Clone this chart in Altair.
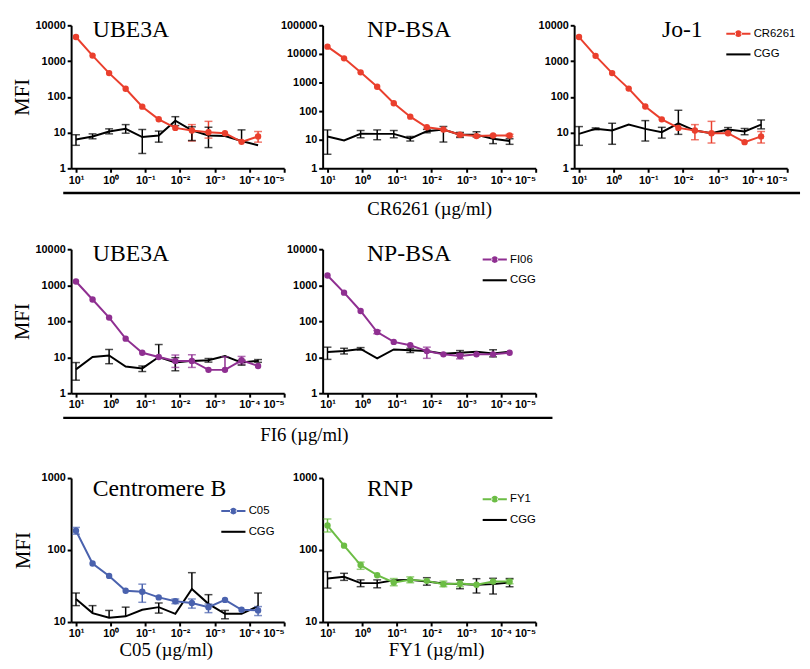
import altair as alt
import pandas as pd

SERIF = "Liberation Serif"
SANS = "Liberation Sans"

# x: antibody concentration (ug/ml), 3-fold dilutions
conc = [10, 3.33, 1.11, 0.37, 0.123, 0.0412, 0.0137, 0.00457, 0.00152, 0.000508, 0.000169, 0.0000565]

x_tick_values = [10, 1, 0.1, 0.01, 0.001, 0.0001, 0.00001]
x_tick_labels = ["10¹", "10⁰", "10⁻¹", "10⁻²", "10⁻³", "10⁻⁴", "10⁻⁵"]
x_label_expr = "[" + ",".join("'%s'" % s for s in x_tick_labels) + "][1 - round(log(datum.value) / LN10)]"

# ---------------- Row 1 : CR6261 ----------------
r1_ube_ab_mean = [4700, 1420, 460, 168, 53, 23.5, 13.5, 11.4, 10.2, 9.6, 5.5, 7.8]
r1_ube_ab_lo = [4700, 1420, 460, 168, 53, 23.5, 13.5, 5.8, 7.0, 9.6, 5.5, 5.4]
r1_ube_ab_hi = [4700, 1420, 460, 168, 53, 23.5, 13.5, 16.7, 20.6, 9.6, 5.5, 10.7]
r1_ube_cgg_mean = [6.4, 7.8, 10.7, 12.7, 7.5, 8.3, 21.5, 11.5, 8.3, 8.0, 5.8, 4.4]
r1_ube_cgg_lo = [4.4, 6.7, 9.2, 9.6, 2.6, 5.4, 15.7, 6.0, 3.8, 8.0, 5.8, 4.4]
r1_ube_cgg_hi = [8.7, 9.2, 12.7, 16.7, 12.2, 11.0, 27.8, 14.5, 14.1, 8.0, 11.9, 4.4]

r1_np_ab_mean = [17900, 7000, 2270, 709, 189, 64, 27.3, 22.7, 14.9, 13.4, 14.0, 14.0]
r1_np_ab_lo = [17900, 7000, 2270, 709, 189, 64, 27.3, 22.7, 13.0, 13.4, 14.0, 12.8]
r1_np_ab_hi = [17900, 7000, 2270, 709, 189, 64, 27.3, 22.7, 17.0, 13.4, 14.0, 15.5]
r1_np_cgg_mean = [13.0, 9.5, 16.1, 16.0, 16.0, 10.8, 19.9, 22.6, 14.9, 14.9, 10.8, 9.0]
r1_np_cgg_lo = [3.1, 9.5, 11.7, 10.0, 11.7, 9.0, 17.5, 8.3, 12.0, 12.5, 7.3, 6.9]
r1_np_cgg_hi = [22.0, 9.5, 21.0, 22.0, 21.0, 13.0, 23.0, 29.0, 18.0, 19.0, 14.0, 10.8]

r1_jo_ab_mean = [4700, 1400, 460, 170, 53.6, 23.4, 13.5, 11.4, 9.6, 9.6, 5.4, 7.8]
r1_jo_ab_lo = [4700, 1400, 460, 170, 53.6, 23.4, 13.5, 6.3, 5.1, 9.6, 5.4, 5.1]
r1_jo_ab_hi = [4700, 1400, 460, 170, 53.6, 23.4, 13.5, 16.7, 20.6, 9.6, 5.4, 10.7]
r1_jo_cgg_mean = [9.2, 12.7, 11.4, 16.7, 12.7, 10.3, 18.2, 11.4, 9.6, 12.2, 10.7, 16.7]
r1_jo_cgg_lo = [4.4, 12.0, 4.7, 16.7, 5.8, 7.0, 8.9, 11.4, 9.6, 10.8, 8.7, 12.7]
r1_jo_cgg_hi = [14.7, 13.5, 18.2, 16.7, 21.6, 14.0, 42.0, 11.4, 9.6, 13.8, 13.0, 22.5]

# ---------------- Row 2 : FI6 ----------------
r2_ube_ab_mean = [1270, 400, 126, 32.8, 13.3, 10.1, 7.9, 7.9, 4.45, 4.45, 8.2, 5.7]
r2_ube_ab_lo = [1270, 400, 126, 32.8, 13.3, 10.1, 5.2, 5.2, 4.45, 4.45, 6.4, 5.7]
r2_ube_ab_hi = [1270, 400, 126, 32.8, 13.3, 10.1, 11.5, 11.7, 4.45, 10.3, 10.5, 5.7]
r2_ube_cgg_mean = [4.6, 10.1, 11.2, 5.5, 4.9, 10.1, 7.1, 7.9, 8.2, 10.7, 7.1, 7.9]
r2_ube_cgg_lo = [2.3, 10.1, 6.6, 5.5, 4.0, 10.1, 4.2, 7.9, 7.3, 10.7, 6.0, 7.2]
r2_ube_cgg_hi = [7.1, 10.1, 16.4, 5.5, 5.7, 22.5, 9.7, 7.9, 9.2, 10.7, 8.3, 8.6]

r2_np_ab_mean = [1860, 620, 192, 50, 26.6, 21.5, 14.8, 12.0, 10.8, 12.0, 12.0, 13.3]
r2_np_ab_lo = [1860, 620, 192, 45, 26.6, 21.5, 9.3, 12.0, 9.0, 12.0, 12.0, 13.3]
r2_np_ab_hi = [1860, 620, 192, 55, 26.6, 21.5, 19.0, 12.0, 12.8, 12.0, 12.0, 13.3]
r2_np_cgg_mean = [13.9, 14.8, 17.0, 9.3, 16.4, 15.7, 14.8, 12.4, 13.3, 14.2, 12.7, 14.2]
r2_np_cgg_lo = [8.7, 12.3, 15.8, 9.3, 16.4, 13.5, 14.8, 12.4, 11.5, 14.2, 10.2, 14.2]
r2_np_cgg_hi = [19.0, 17.7, 18.5, 9.3, 16.4, 17.6, 14.8, 12.4, 15.3, 14.2, 16.1, 14.2]

# ---------------- Row 3 : C05 / FY1 ----------------
r3_cen_ab_mean = [185, 65, 43.7, 27.2, 26.4, 22.0, 19.4, 18.4, 16.1, 20.3, 14.8, 14.5]
r3_cen_ab_lo = [166, 65, 43.7, 27.2, 18.8, 22.0, 18.0, 15.6, 13.5, 20.3, 14.8, 12.3]
r3_cen_ab_hi = [206, 65, 43.7, 27.2, 33.6, 22.0, 20.9, 20.9, 17.8, 20.3, 14.8, 16.4]
r3_cen_cgg_mean = [20.9, 13.3, 11.5, 12.0, 14.8, 16.1, 13.0, 28.7, 17.9, 13.0, 13.0, 16.6]
r3_cen_cgg_lo = [16.9, 13.3, 11.5, 12.0, 14.8, 13.3, 13.0, 28.7, 17.9, 11.1, 13.0, 16.6]
r3_cen_cgg_hi = [25.3, 16.9, 14.5, 16.1, 14.8, 18.4, 13.0, 48.5, 24.0, 14.5, 13.0, 25.3]

r3_rnp_ab_mean = [219, 115, 61.9, 44.7, 35.4, 38.5, 37.3, 33.6, 34.3, 32.9, 36.6, 36.6]
r3_rnp_ab_lo = [178, 115, 54, 44.7, 31.9, 35.1, 37.3, 30.9, 30.9, 32.9, 36.6, 34.0]
r3_rnp_ab_hi = [270, 115, 68, 44.7, 40.2, 42.4, 37.3, 37.0, 38.1, 32.9, 36.6, 39.3]
r3_rnp_cgg_mean = [40.2, 42.4, 34.7, 34.7, 38.1, 38.5, 36.6, 34.3, 33.6, 32.9, 33.6, 35.4]
r3_rnp_cgg_lo = [29.6, 37.9, 31.0, 29.9, 38.1, 38.5, 32.5, 34.3, 29.0, 25.3, 24.5, 30.9]
r3_rnp_cgg_hi = [50.1, 47.5, 38.5, 38.5, 38.1, 38.5, 41.3, 34.3, 38.5, 40.0, 40.5, 40.2]

RED = "#EA3F2D"
PURPLE = "#8F2F91"
BLUE = "#4A62AE"
GREEN = "#6CBD45"

# legend symbols (unit-square paths): line with a dot, and a plain line (as thin filled bars)
CIRCLE = "M-0.28,0A0.28,0.28,0,1,0,0.28,0A0.28,0.28,0,1,0,-0.28,0Z"
DOTLINE = "M-1,-0.085H-0.2V0.085H-1Z M0.2,-0.085H1V0.085H0.2Z " + CIRCLE
LINE = "M-1,-0.085H1V0.085H-1Z"

PW = 216
XMAX = 10 ** 1.14


def make_panel(name, ab, color, ymin, ymax, yvals, vals, mfi, title_dx, title_dy=22,
               legend_xy=None, mfi_pad=3, xtitle=None, xtitle_x=0, h=146):
    ab_mean, ab_lo, ab_hi, cgg_mean, cgg_lo, cgg_hi = vals
    rows = []
    for i, c in enumerate(conc):
        rows.append({"conc": c, "series": ab, "mean": ab_mean[i], "lo": ab_lo[i], "hi": ab_hi[i]})
    for i, c in enumerate(conc):
        rows.append({"conc": c, "series": "CGG", "mean": cgg_mean[i], "lo": cgg_lo[i], "hi": cgg_hi[i]})
    df = pd.DataFrame(rows)
    base = alt.Chart(df)

    xs = alt.Scale(type="log", domain=[1e-5, XMAX], reverse=True, nice=False)
    ys = alt.Scale(type="log", domain=[ymin, ymax], nice=False)
    cs = alt.Scale(domain=[ab, "CGG"], range=[color, "black"])

    xaxis_kw = dict(values=x_tick_values, labelExpr=x_label_expr, tickSize=4, tickWidth=2,
                    domainWidth=2, domainColor="black", tickColor="black",
                    labelFont=SANS, labelFontWeight="bold", labelFontSize=11,
                    labelColor="black", labelPadding=2, grid=False, labelAngle=0)
    if xtitle:
        xaxis_kw.update(title=xtitle, titleFont=SERIF, titleFontSize=19, titleFontWeight="normal",
                        titleColor="black", titleX=xtitle_x, titleY=28, titleBaseline="middle")
    else:
        xaxis_kw.update(title=None)
    xaxis = alt.Axis(**xaxis_kw)

    yaxis_kw = dict(values=yvals, format="d", tickSize=4, tickWidth=2, domainWidth=2,
                    domainColor="black", tickColor="black", labelFont=SANS,
                    labelFontWeight="bold", labelFontSize=11, labelColor="black",
                    labelPadding=2, grid=False)
    if mfi:
        yaxis_kw.update(title="MFI", titleFont=SERIF, titleFontSize=21, titleFontWeight="normal",
                        titleColor="black", titlePadding=mfi_pad)
    else:
        yaxis_kw.update(title=None)
    yaxis = alt.Axis(**yaxis_kw)

    if legend_xy:
        legend = alt.Legend(
            orient="none", legendX=legend_xy[0], legendY=legend_xy[1], title=None,
            symbolSize=600, symbolStrokeWidth=0, symbolOpacity=1,
            labelFont=SANS, labelFontSize=11.5, labelColor="black", labelOffset=3,
            rowPadding=3, padding=0,
        )
    else:
        legend = None

    X = alt.X("conc:Q", scale=xs, axis=xaxis)
    col = alt.Color("series:N", scale=cs, legend=legend)

    def Y(field):
        return alt.Y(field, type="quantitative", scale=ys, axis=yaxis)

    cgg_line = base.transform_filter("datum.series === 'CGG'").mark_line(strokeWidth=2).encode(
        x=X, y=Y("mean"), color=col,
    )
    err = base.transform_filter("datum.hi > datum.lo").mark_rule(strokeWidth=1.5).encode(
        x=X, y=Y("lo"), y2="hi:Q", color=col,
    )
    cap_hi = base.transform_filter("datum.hi > datum.mean").mark_tick(
        orient="horizontal", size=8, thickness=1.5).encode(x=X, y=Y("hi"), color=col)
    cap_lo = base.transform_filter("datum.lo < datum.mean").mark_tick(
        orient="horizontal", size=8, thickness=1.5).encode(x=X, y=Y("lo"), color=col)
    ab_line = base.transform_filter("datum.series !== 'CGG'").mark_line(strokeWidth=2).encode(
        x=X, y=Y("mean"), color=col,
    )
    ab_pts = base.transform_filter("datum.series !== 'CGG'").mark_circle(size=42, opacity=1).encode(
        x=X, y=Y("mean"), color=col,
    )
    layers = [cgg_line, err, cap_hi, cap_lo, ab_line, ab_pts]

    if legend_xy:
        leg_layer = base.transform_filter("false").mark_point(filled=True).encode(
            x=X, y=Y("mean"), color=col,
            shape=alt.Shape("series:N", scale=alt.Scale(domain=[ab, "CGG"], range=[DOTLINE, LINE]),
                            legend=legend),
        )
        layers.append(leg_layer)

    return alt.layer(*layers).properties(
        width=PW, height=h,
        title=alt.TitleParams(text=name, anchor="start", frame="group", orient="top",
                              offset=-20, dx=title_dx, dy=title_dy, font=SERIF, fontSize=24,
                              fontWeight="normal", color="black", baseline="alphabetic"),
    )


# under-lines spanning a row of panels (in pixels of the first panel's frame)
underline1_span = [-8, 739]
underline2_span = [-8, 488]


def underline(span, height, title, title_x, title_y, rule_y):
    d = pd.DataFrame({"x0": [span[0]], "x1": [span[1]]})
    return alt.Chart(d).mark_rule(strokeWidth=2.5, color="black").encode(
        x=alt.X("x0:Q", scale=alt.Scale(domain=[0, PW], nice=False, zero=False),
                axis=alt.Axis(orient="top", title=title, labels=False, ticks=False, domain=False,
                              grid=False, titleFont=SERIF, titleFontSize=19,
                              titleFontWeight="normal", titleColor="black", titleX=title_x,
                              titleY=title_y, titleBaseline="middle")),
        x2="x1:Q",
        y=alt.value(rule_y),
    ).properties(width=PW, height=height)


def spacer():
    d = pd.DataFrame({"u": [0]})
    return alt.Chart(d).mark_point(opacity=0).encode(
        x=alt.value(0), y=alt.value(0)).properties(width=1, height=1)


y4 = [1, 10, 100, 1000, 10000]
y5 = [1, 10, 100, 1000, 10000, 100000]
y3 = [10, 100, 1000]

p11 = make_panel("UBE3A", "CR6261", RED, 1, 10000, y4,
                 [r1_ube_ab_mean, r1_ube_ab_lo, r1_ube_ab_hi, r1_ube_cgg_mean, r1_ube_cgg_lo, r1_ube_cgg_hi],
                 True, 22, h=145)
p12 = make_panel("NP-BSA", "CR6261", RED, 1, 100000, y5,
                 [r1_np_ab_mean, r1_np_ab_lo, r1_np_ab_hi, r1_np_cgg_mean, r1_np_cgg_lo, r1_np_cgg_hi],
                 False, 45, h=145)
p13 = make_panel("Jo-1", "CR6261", RED, 1, 10000, y4,
                 [r1_jo_ab_mean, r1_jo_ab_lo, r1_jo_ab_hi, r1_jo_cgg_mean, r1_jo_cgg_lo, r1_jo_cgg_hi],
                 False, 89, legend_xy=(154, -4), h=145)
p21 = make_panel("UBE3A", "FI06", PURPLE, 1, 10000, y4,
                 [r2_ube_ab_mean, r2_ube_ab_lo, r2_ube_ab_hi, r2_ube_cgg_mean, r2_ube_cgg_lo, r2_ube_cgg_hi],
                 True, 22)
p22 = make_panel("NP-BSA", "FI06", PURPLE, 1, 10000, y4,
                 [r2_np_ab_mean, r2_np_ab_lo, r2_np_ab_hi, r2_np_cgg_mean, r2_np_cgg_lo, r2_np_cgg_hi],
                 False, 45, legend_xy=(162, -2))
p31 = make_panel("Centromere B", "C05", BLUE, 10, 1000, y3,
                 [r3_cen_ab_mean, r3_cen_ab_lo, r3_cen_ab_hi, r3_cen_cgg_mean, r3_cen_cgg_lo, r3_cen_cgg_hi],
                 True, 22, title_dy=28, legend_xy=(152, 21), mfi_pad=8,
                 xtitle="C05 (µg/ml)", xtitle_x=96)
p32 = make_panel("RNP", "FY1", GREEN, 10, 1000, y3,
                 [r3_rnp_ab_mean, r3_rnp_ab_lo, r3_rnp_ab_hi, r3_rnp_cgg_mean, r3_rnp_cgg_lo, r3_rnp_cgg_hi],
                 False, 45, title_dy=28, legend_xy=(162, 9), xtitle="FY1 (µg/ml)", xtitle_x=115)

u1 = underline(underline1_span, 32, "CR6261 (µg/ml)", 363, 16, 0)
u2 = underline(underline2_span, 36, "FI6 (µg/ml)", 236, 17, 0)

chart = alt.concat(
    p11, p12, p13,
    u1, spacer(), spacer(),
    p21, p22, spacer(),
    u2, spacer(), spacer(),
    p31, p32,
    columns=3,
    spacing={"row": 25, "column": 39},
    bounds="flush",
).resolve_scale(
    x="independent", y="independent", color="independent", shape="independent",
).resolve_axis(
    x="independent", y="independent",
).resolve_legend(
    color="independent", shape="independent",
).properties(
    padding={"left": 3, "top": 6, "right": 0, "bottom": 0},
    background="white",
).configure_view(strokeWidth=0)

chart.save("out.html", embed_options={"renderer": "svg", "actions": False})
